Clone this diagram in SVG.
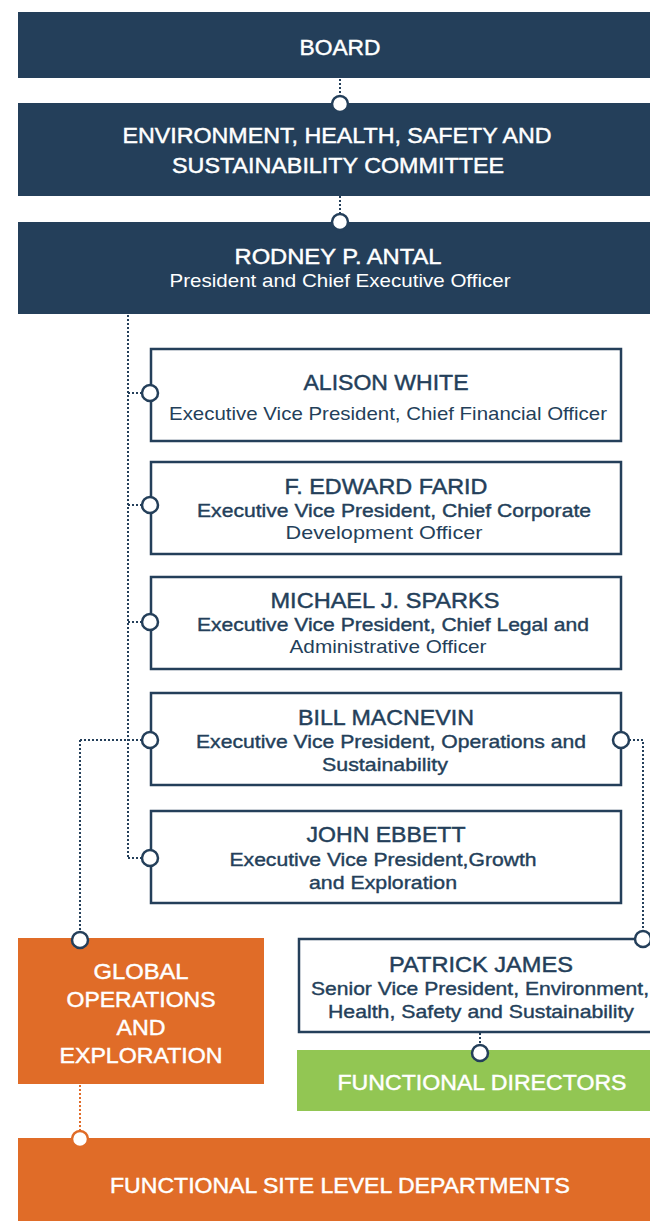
<svg xmlns="http://www.w3.org/2000/svg" width="650" height="1221" viewBox="0 0 650 1221">
<style>
.navy{fill:#243F5A}
.box{fill:#fff;stroke:#243F5A;stroke-width:2.5}
.org{fill:#E06C28}
.grn{fill:#92C653}
text{font-family:'Liberation Sans',Arial,sans-serif;text-anchor:middle}
.hw{fill:#fff;font-size:22px;stroke:#fff;stroke-width:0.45}
.sw{fill:#fff;font-size:19px}
.nm{fill:#243F5A;font-size:22px;stroke:#243F5A;stroke-width:0.45}
.lm{fill:#243F5A;font-size:19px;stroke:#243F5A;stroke-width:0.4}
.lr{fill:#243F5A;font-size:19px}
.dot{fill:none;stroke:#243F5A;stroke-width:2;stroke-dasharray:2 2}
.doto{fill:none;stroke:#E06C28;stroke-width:2;stroke-dasharray:2 2}
.c{fill:#fff;stroke:#243F5A;stroke-width:2.5}
.co{fill:#fff;stroke:#E06C28;stroke-width:2.5}
</style>
<g id="connectors">
<path class="dot" d="M340 79V96M340 196V214"/>
<path class="dot" d="M128 315V858M128 393H142M128 505H142M128 622H142M80 740H142M128 858H142"/>
<path class="dot" d="M80 740V932"/>
<path class="dot" d="M629 740H643V931"/>
<path class="dot" d="M480 1033V1045"/>
<path class="doto" d="M80 1085V1131"/>
</g>
<g id="board"><rect class="navy" x="18" y="12" width="632" height="66"/><text class="hw" x="340" y="55" textLength="81" lengthAdjust="spacingAndGlyphs">BOARD</text></g>
<g id="ehs"><rect class="navy" x="18" y="103" width="632" height="93"/>
<text class="hw" x="337" y="143" textLength="429" lengthAdjust="spacingAndGlyphs">ENVIRONMENT, HEALTH, SAFETY AND</text>
<text class="hw" x="338" y="173" textLength="332" lengthAdjust="spacingAndGlyphs">SUSTAINABILITY COMMITTEE</text></g>
<g id="ceo"><rect class="navy" x="18" y="222" width="632" height="92"/>
<text class="hw" x="338" y="264" textLength="207" lengthAdjust="spacingAndGlyphs">RODNEY P. ANTAL</text>
<text class="sw" x="340" y="287" textLength="341" lengthAdjust="spacingAndGlyphs">President and Chief Executive Officer</text></g>
<g id="white"><rect class="box" x="151" y="349" width="470" height="92"/>
<text class="nm" x="386" y="390" textLength="165" lengthAdjust="spacingAndGlyphs">ALISON WHITE</text>
<text class="lr" x="388" y="420" textLength="438" lengthAdjust="spacingAndGlyphs">Executive Vice President, Chief Financial Officer</text></g>
<g id="farid"><rect class="box" x="151" y="462" width="470" height="92"/>
<text class="nm" x="386" y="494" textLength="203" lengthAdjust="spacingAndGlyphs">F. EDWARD FARID</text>
<text class="lm" x="394" y="517" textLength="394" lengthAdjust="spacingAndGlyphs">Executive Vice President, Chief Corporate</text>
<text class="lr" x="384" y="539" textLength="197" lengthAdjust="spacingAndGlyphs">Development Officer</text></g>
<g id="sparks"><rect class="box" x="151" y="577" width="470" height="92"/>
<text class="nm" x="385" y="608" textLength="229" lengthAdjust="spacingAndGlyphs">MICHAEL J. SPARKS</text>
<text class="lm" x="393" y="631" textLength="392" lengthAdjust="spacingAndGlyphs">Executive Vice President, Chief Legal and</text>
<text class="lr" x="388" y="653" textLength="197" lengthAdjust="spacingAndGlyphs">Administrative Officer</text></g>
<g id="macnevin"><rect class="box" x="151" y="693" width="470" height="92"/>
<text class="nm" x="386" y="725" textLength="176" lengthAdjust="spacingAndGlyphs">BILL MACNEVIN</text>
<text class="lm" x="391" y="748" textLength="390" lengthAdjust="spacingAndGlyphs">Executive Vice President, Operations and</text>
<text class="lm" x="385" y="771" textLength="126" lengthAdjust="spacingAndGlyphs">Sustainability</text></g>
<g id="ebbett"><rect class="box" x="151" y="811" width="470" height="92"/>
<text class="nm" x="386" y="842" textLength="159" lengthAdjust="spacingAndGlyphs">JOHN EBBETT</text>
<text class="lm" x="383" y="866" textLength="307" lengthAdjust="spacingAndGlyphs">Executive Vice President,Growth</text>
<text class="lm" x="383" y="889" textLength="148" lengthAdjust="spacingAndGlyphs">and Exploration</text></g>
<g id="global"><rect class="org" x="18" y="938" width="246" height="146"/>
<text class="hw" x="141" y="979" textLength="95" lengthAdjust="spacingAndGlyphs">GLOBAL</text>
<text class="hw" x="141" y="1007" textLength="149" lengthAdjust="spacingAndGlyphs">OPERATIONS</text>
<text class="hw" x="141" y="1035" textLength="49" lengthAdjust="spacingAndGlyphs">AND</text>
<text class="hw" x="141" y="1063" textLength="163" lengthAdjust="spacingAndGlyphs">EXPLORATION</text></g>
<g id="james"><rect class="box" x="299" y="939" width="370" height="93"/>
<text class="nm" x="481" y="972" textLength="184" lengthAdjust="spacingAndGlyphs">PATRICK JAMES</text>
<text class="lm" x="480" y="995" textLength="338" lengthAdjust="spacingAndGlyphs">Senior Vice President, Environment,</text>
<text class="lm" x="481" y="1018" textLength="306" lengthAdjust="spacingAndGlyphs">Health, Safety and Sustainability</text></g>
<g id="directors"><rect class="grn" x="297" y="1050" width="353" height="61"/>
<text class="hw" x="482" y="1090" textLength="289" lengthAdjust="spacingAndGlyphs">FUNCTIONAL DIRECTORS</text></g>
<g id="site"><rect class="org" x="18" y="1138" width="632" height="83"/>
<text class="hw" x="340" y="1193" textLength="460" lengthAdjust="spacingAndGlyphs">FUNCTIONAL SITE LEVEL DEPARTMENTS</text></g>
<g id="ports">
<circle class="c" cx="340" cy="104" r="8"/>
<circle class="c" cx="340" cy="222" r="8"/>
<circle class="c" cx="150" cy="393" r="8"/>
<circle class="c" cx="150" cy="505" r="8"/>
<circle class="c" cx="150" cy="622" r="8"/>
<circle class="c" cx="150" cy="740" r="8"/>
<circle class="c" cx="621" cy="740" r="8"/>
<circle class="c" cx="150" cy="858" r="8"/>
<circle class="c" cx="80" cy="940" r="8"/>
<circle class="c" cx="643" cy="939" r="8"/>
<circle class="c" cx="480" cy="1053" r="8"/>
<circle class="co" cx="80" cy="1139" r="8"/>
</g>
</svg>
